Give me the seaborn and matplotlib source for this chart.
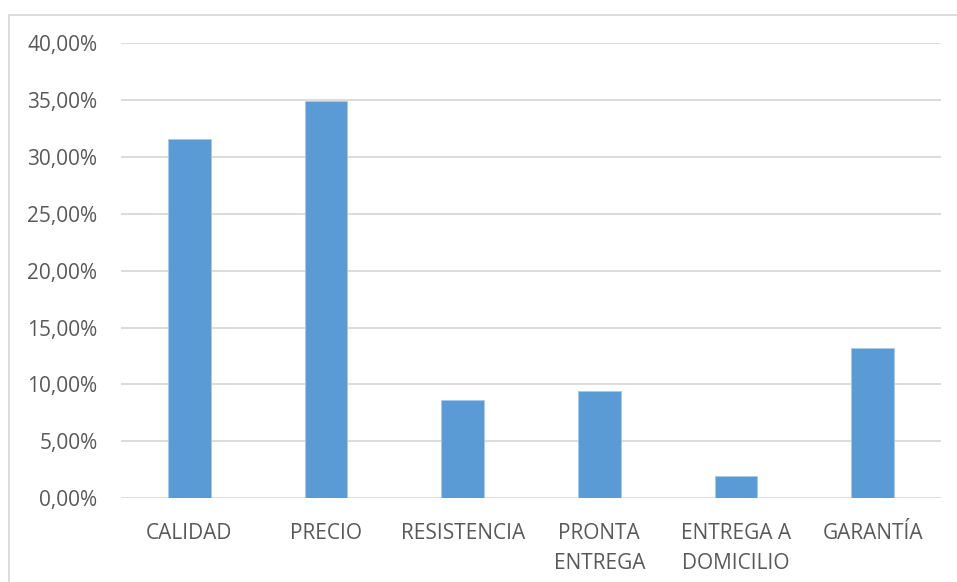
import matplotlib
matplotlib.use("Agg")
import matplotlib.pyplot as plt
import seaborn as sns
import pandas as pd
from matplotlib.patches import Rectangle
from matplotlib.ticker import FuncFormatter, MultipleLocator

categories = ["CALIDAD", "PRECIO", "RESISTENCIA", "PRONTA\nENTREGA", "ENTREGA A\nDOMICILIO", "GARANTÍA"]
values = [0.3158, 0.3490, 0.0862, 0.0941, 0.0196, 0.1320]

sns.set_theme(style="white")
plt.rcParams["font.family"] = ["Open Sans", "DejaVu Sans"]

df = pd.DataFrame({"cat": categories, "val": values})

fig = plt.figure(figsize=(9.57, 5.82), dpi=100)
ax = fig.add_axes([121/957, 1-498.3/582, (941-121)/957, (498.3-43)/582])

sns.barplot(data=df, x="cat", y="val", color="#5B9BD5", width=0.31,
            saturation=1, ax=ax, edgecolor="#A9C9EA", linewidth=0.6, zorder=3)

ax.set_ylim(0, 0.40)
ax.yaxis.set_major_locator(MultipleLocator(0.05))
ax.yaxis.set_major_formatter(FuncFormatter(lambda v, p: f"{v*100:.2f}%".replace(".", ",")))
ax.grid(axis="y", color="#D9D9D9", linewidth=1.3, zorder=0)
ax.set_axisbelow(True)
for s in ax.spines.values():
    s.set_visible(False)
ax.set_xlabel("")
ax.set_ylabel("")
ax.tick_params(axis="y", length=0, pad=17, labelsize=15, labelcolor="#595959")
ax.tick_params(axis="x", length=0, pad=18, labelsize=15, labelcolor="#595959")
for t in ax.get_xticklabels():
    t.set_linespacing(1.55)
    t.set_verticalalignment("top")

fig.patches.append(Rectangle((9/957, -0.1), 1.2, 1.1 - 14.7/582,
                             transform=fig.transFigure, fill=False,
                             edgecolor="#D9D9D9", linewidth=1.3))

fig.savefig("out.png", dpi=100)
